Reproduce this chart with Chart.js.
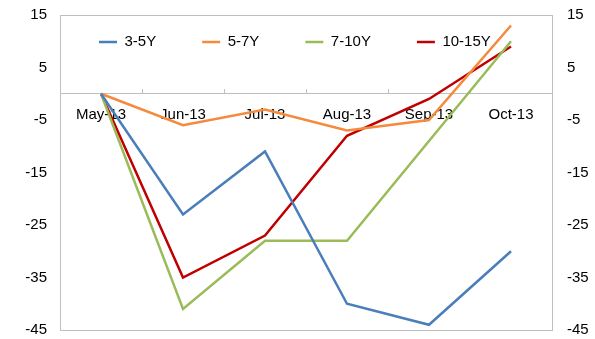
<!DOCTYPE html>
<html>
<head>
<meta charset="utf-8">
<script src="https://cdn.jsdelivr.net/npm/chart.js@4/dist/chart.umd.min.js"></script>
<style>
    body { margin: 0; background: #fff; }
    #caixa { width: 595px; height: 339px; position: relative; }
</style>
</head>
<body>
<div id="caixa"><canvas id="grafico"></canvas></div>
<script>
// categorias e séries
const meses = ['May-13', 'Jun-13', 'Jul-13', 'Aug-13', 'Sep-13', 'Oct-13'];
const serie3a5 = [0, -23, -11, -40, -44, -30];
const serie5a7 = [0, -6, -3, -7, -5, 13];
const serie7a10 = [0, -41, -28, -28, -9, 10];
const serie10a15 = [0, -35, -27, -8, -1, 9];
const eixoMin = -45;
const eixoMax = 15;
const eixoPasso = 10;

const fonte = { family: '"Liberation Sans", Arial, sans-serif', size: 15 };

function criarSerie(rotulo, valores, cor) {
    return {
        label: rotulo,
        data: valores,
        borderColor: cor,
        backgroundColor: cor,
        borderWidth: 2.5,
        tension: 0,
        pointRadius: 0,
        yAxisID: 'y'
    };
}

// moldura cinza em volta da área do gráfico + legenda dentro da área
const moldura = {
    id: 'moldura',
    afterLayout(chart) {
        const leg = chart.legend;
        leg.top = -11.5;
        leg.left = 53;
        leg.bottom = 70;
        leg.height = leg.bottom - leg.top;
    },
    beforeDatasetsDraw(chart) {
        const { ctx, chartArea: a } = chart;
        ctx.save();
        ctx.strokeStyle = '#BFBFBF';
        ctx.lineWidth = 1;
        ctx.strokeRect(Math.round(a.left) + 0.5, Math.round(a.top) + 0.5,
            Math.round(a.right - a.left), Math.round(a.bottom - a.top));
        ctx.restore();
    }
};

// eixo y: espaço entre rótulos e área via marcas invisíveis
function eixoY(lado, largura, recuo) {
    return {
        position: lado,
        min: eixoMin,
        max: eixoMax,
        grid: {
            display: true,
            drawOnChartArea: false,
            drawTicks: true,
            tickLength: recuo,
            tickColor: 'rgba(0,0,0,0)'
        },
        border: { display: false },
        ticks: { stepSize: eixoPasso, color: '#000', font: fonte, padding: 0 },
        afterFit: (escala) => { escala.width = largura; }
    };
}

const ctx = document.getElementById('grafico').getContext('2d');
new Chart(ctx, {
    type: 'line',
    data: {
        labels: meses,
        datasets: [
            criarSerie('3-5Y', serie3a5, '#4A7EBB'),
            criarSerie('5-7Y', serie5a7, '#F58A3C'),
            criarSerie('7-10Y', serie7a10, '#9BBB59'),
            criarSerie('10-15Y', serie10a15, '#C00000')
        ]
    },
    options: {
        responsive: true,
        maintainAspectRatio: false,
        animation: false,
        layout: { padding: { top: 14, bottom: 9, left: 0, right: 0 } },
        scales: {
            x: {
                position: { y: 0 },
                offset: true,
                grid: {
                    display: true,
                    drawOnChartArea: false,
                    drawTicks: true,
                    tickLength: -5,
                    color: '#BFBFBF',
                    offset: true
                },
                border: { display: true, color: '#BFBFBF', width: 1 },
                ticks: { color: '#000', font: fonte, padding: 17.5, maxRotation: 0, autoSkip: false }
            },
            y: eixoY('left', 60, 13),
            y2: eixoY('right', 43, 15)
        },
        plugins: {
            legend: {
                position: 'top',
                align: 'start',
                maxHeight: 1,
                labels: {
                    color: '#000',
                    font: fonte,
                    usePointStyle: true,
                    pointStyle: 'line',
                    pointStyleWidth: 18,
                    padding: 46
                }
            },
            tooltip: { enabled: false }
        }
    },
    plugins: [moldura]
});
</script>
</body>
</html>
